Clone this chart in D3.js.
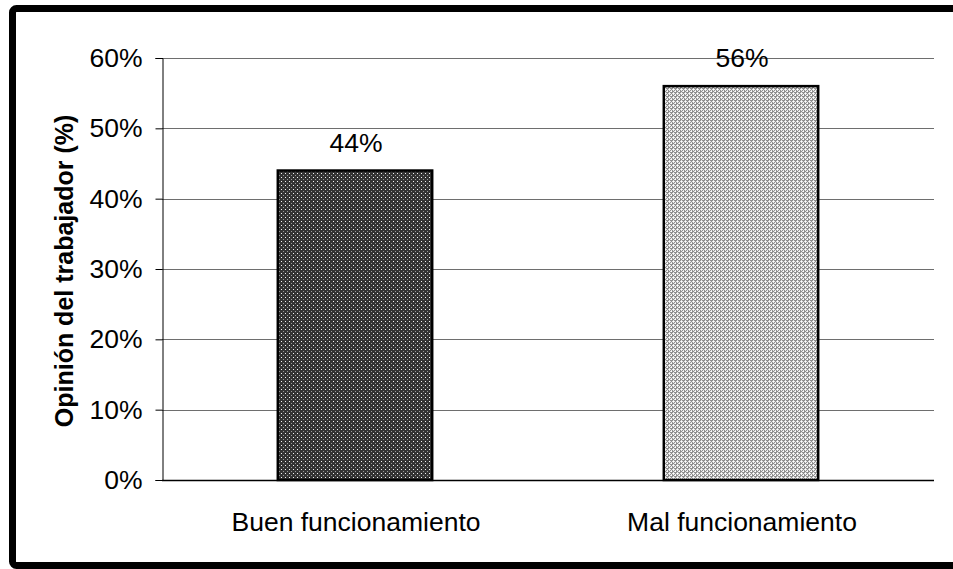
<!DOCTYPE html>
<html>
<head>
<meta charset="utf-8">
<script src="https://cdn.jsdelivr.net/npm/d3@7"></script>
<style>
  html, body { margin: 0; padding: 0; background: #fff; }
  svg { display: block; font-family: "Liberation Sans", Arial, sans-serif; }
</style>
</head>
<body>
<svg id="chart" width="953" height="569"></svg>
<script>
// Opinión del trabajador sobre el funcionamiento
const categories = ["Buen funcionamiento", "Mal funcionamiento"];
const values = [0.44, 0.56];
const valueLabels = ["44%", "56%"];
const yTicks = [0, 0.1, 0.2, 0.3, 0.4, 0.5, 0.6];
const yTickLabels = ["0%", "10%", "20%", "30%", "40%", "50%", "60%"];
const patternIds = ["dotsDark", "checkLight"];

const svg = d3.select("#chart");
const W = 953, H = 569;
const m = { left: 162, right: 19, top: 58, bottom: 89 };
const FS = 26.5;

// outer frame
svg.append("rect")
  .attr("x", 12.5).attr("y", 8.5)
  .attr("width", W + 20).attr("height", 557)
  .attr("rx", 4)
  .attr("fill", "#fff").attr("stroke", "#000").attr("stroke-width", 7);

// fill patterns
const defs = svg.append("defs");
const p1 = defs.append("pattern").attr("id", "dotsDark")
  .attr("patternUnits", "userSpaceOnUse").attr("width", 4).attr("height", 4);
p1.append("rect").attr("width", 4).attr("height", 4).attr("fill", "#333");
p1.append("rect").attr("x", 1).attr("y", 1).attr("width", 1).attr("height", 1).attr("fill", "#f4f4f4");
p1.append("rect").attr("x", 3).attr("y", 3).attr("width", 1).attr("height", 1).attr("fill", "#999");

const p2 = defs.append("pattern").attr("id", "checkLight")
  .attr("patternUnits", "userSpaceOnUse").attr("width", 4).attr("height", 4);
p2.append("rect").attr("width", 4).attr("height", 4).attr("fill", "#8f8f8f");
[[1, 1], [3, 3]].forEach(([px, py]) =>
  p2.append("rect").attr("x", px).attr("y", py).attr("width", 1).attr("height", 1).attr("fill", "#ffffff"));
[[0, 1], [1, 0], [2, 1], [1, 2], [2, 3], [3, 2]].forEach(([px, py]) =>
  p2.append("rect").attr("x", px).attr("y", py).attr("width", 1).attr("height", 1).attr("fill", "#e6e6e6"));

const x = d3.scaleBand().domain(categories)
  .range([m.left, W - m.right]).paddingInner(0.6).paddingOuter(0.3);
const y = d3.scaleLinear().domain([0, 0.6]).range([H - m.bottom, m.top]);

// gridlines
svg.append("g").selectAll("line").data(yTicks.filter(d => d > 0)).join("line")
  .attr("x1", m.left).attr("x2", W - m.right)
  .attr("y1", d => Math.round(y(d)) + 0.5).attr("y2", d => Math.round(y(d)) + 0.5)
  .attr("stroke", "#6e6e6e").attr("stroke-width", 1);

// y axis
const yAxis = d3.axisLeft(y).tickValues(yTicks)
  .tickFormat((d, i) => yTickLabels[i]).tickSize(7).tickPadding(13);
const ga = svg.append("g").attr("transform", `translate(${m.left + 0.5},0)`).call(yAxis);
ga.select(".domain").attr("stroke", "#000");
ga.selectAll(".tick line").attr("stroke", "#000");
ga.selectAll(".tick text").attr("font-size", FS).attr("fill", "#000")
  .attr("font-family", "Liberation Sans, Arial, sans-serif");

// bars
svg.append("g").selectAll("rect").data(values).join("rect")
  .attr("x", (d, i) => x(categories[i]))
  .attr("y", d => y(d))
  .attr("width", x.bandwidth())
  .attr("height", d => y(0) - y(d))
  .attr("fill", (d, i) => `url(#${patternIds[i]})`)
  .attr("stroke", "#000").attr("stroke-width", 2.5);

// baseline
svg.append("line")
  .attr("x1", m.left).attr("x2", W - m.right)
  .attr("y1", y(0) + 0.5).attr("y2", y(0) + 0.5)
  .attr("stroke", "#000").attr("stroke-width", 1.5);

// value labels
svg.append("g").selectAll("text").data(values).join("text")
  .attr("x", (d, i) => x(categories[i]) + x.bandwidth() / 2 + 1)
  .attr("y", d => y(d) - 19)
  .attr("text-anchor", "middle").attr("font-size", FS).attr("fill", "#000")
  .text((d, i) => valueLabels[i]);

// category labels
svg.append("g").selectAll("text").data(categories).join("text")
  .attr("x", d => x(d) + x.bandwidth() / 2 + 1)
  .attr("y", 531)
  .attr("text-anchor", "middle").attr("font-size", FS).attr("fill", "#000")
  .text(d => d);

// y axis title
svg.append("text")
  .attr("transform", `translate(73,${(m.top + H - m.bottom) / 2 + 2}) rotate(-90)`)
  .attr("text-anchor", "middle").attr("font-size", 25).attr("font-weight", "bold")
  .attr("fill", "#000")
  .text("Opinión del trabajador (%)");
</script>
</body>
</html>
